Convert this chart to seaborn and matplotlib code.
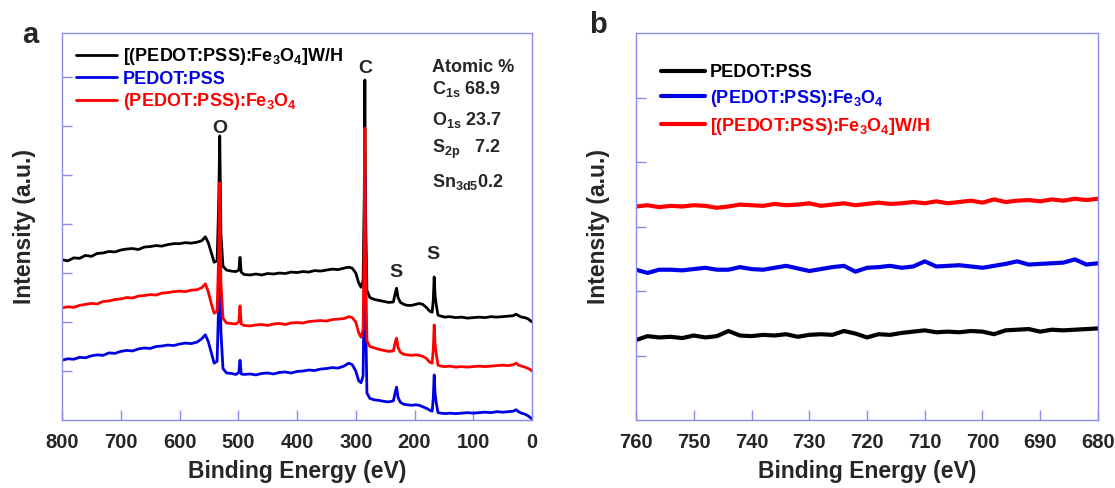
import matplotlib
matplotlib.use("Agg")
import matplotlib.pyplot as plt
import seaborn as sns
import pandas as pd

# ---------------- survey spectra (panel a) ----------------
energy_a = [800, 790, 780, 770, 760, 750, 740, 730, 720, 710,
            700, 690, 680, 670, 660, 650, 640, 630, 620, 610,
            600, 590, 580, 570, 562, 556, 551, 546, 541, 536,
            533.5, 531.5, 529.5, 526, 520, 512, 504, 499, 497, 495,
            490, 480, 470, 460, 450, 440, 430, 420, 410, 400,
            390, 380, 370, 360, 350, 340, 330, 320, 312, 306,
            300, 295, 291, 287.5, 285.5, 284.5, 283.5, 281, 276, 268,
            260, 252, 244, 236, 232.5, 230.5, 228, 224, 218, 212,
            205, 198, 192, 186, 180, 174, 170, 168, 166.5, 165,
            163, 160, 155, 148, 140, 130, 120, 110, 100, 90,
            80, 70, 60, 50, 40, 32, 27, 23, 18, 12,
            6, 3, 0]

wh_a = [3.27, 3.25, 3.31, 3.30, 3.36, 3.34, 3.40, 3.41, 3.44, 3.43,
        3.47, 3.49, 3.50, 3.48, 3.53, 3.54, 3.56, 3.55, 3.58, 3.60,
        3.60, 3.62, 3.61, 3.63, 3.66, 3.74, 3.62, 3.42, 3.22, 3.25,
        4.30, 5.80, 3.80, 3.14, 3.06, 3.04, 3.03, 3.06, 3.32, 3.02,
        2.97, 2.96, 2.98, 2.96, 2.99, 2.98, 3.00, 2.99, 3.02, 3.01,
        3.03, 3.02, 3.05, 3.04, 3.06, 3.08, 3.07, 3.10, 3.12, 3.10,
        3.00, 2.80, 2.71, 2.85, 4.60, 6.94, 4.40, 2.65, 2.50, 2.46,
        2.44, 2.42, 2.40, 2.41, 2.60, 2.69, 2.50, 2.40, 2.36, 2.34,
        2.34, 2.36, 2.38, 2.36, 2.30, 2.22, 2.20, 2.45, 2.92, 2.55,
        2.35, 2.14, 2.12, 2.10, 2.11, 2.09, 2.10, 2.08, 2.09, 2.10,
        2.09, 2.11, 2.10, 2.11, 2.12, 2.13, 2.16, 2.13, 2.10, 2.09,
        2.06, 2.03, 2.00]

pedot_a = [1.22, 1.25, 1.24, 1.28, 1.27, 1.31, 1.33, 1.32, 1.37, 1.36,
           1.40, 1.42, 1.41, 1.45, 1.47, 1.46, 1.50, 1.51, 1.53, 1.52,
           1.55, 1.57, 1.56, 1.59, 1.66, 1.74, 1.60, 1.38, 1.16, 1.20,
           2.30, 3.90, 1.80, 1.05, 0.96, 0.95, 0.93, 0.97, 1.22, 0.94,
           0.93, 0.94, 0.92, 0.95, 0.96, 0.94, 0.97, 0.98, 0.96, 0.99,
           1.00, 1.02, 1.01, 1.04, 1.05, 1.07, 1.06, 1.10, 1.16, 1.13,
           1.00, 0.80, 0.76, 0.90, 2.80, 5.00, 2.40, 0.55, 0.44, 0.41,
           0.40, 0.38, 0.37, 0.39, 0.58, 0.67, 0.46, 0.36, 0.32, 0.31,
           0.30, 0.31, 0.30, 0.27, 0.24, 0.20, 0.18, 0.45, 0.92, 0.55,
           0.35, 0.15, 0.14, 0.13, 0.14, 0.13, 0.14, 0.15, 0.14, 0.15,
           0.16, 0.15, 0.17, 0.16, 0.17, 0.18, 0.21, 0.17, 0.14, 0.12,
           0.08, 0.05, 0.02]

fe3o4_a = [2.29, 2.31, 2.30, 2.34, 2.36, 2.38, 2.37, 2.42, 2.43, 2.46,
           2.47, 2.50, 2.49, 2.53, 2.54, 2.56, 2.55, 2.59, 2.60, 2.62,
           2.63, 2.62, 2.65, 2.66, 2.70, 2.78, 2.62, 2.38, 2.18, 2.22,
           3.30, 4.84, 2.80, 2.08, 1.98, 1.97, 1.96, 2.00, 2.33, 1.96,
           1.93, 1.92, 1.94, 1.95, 1.93, 1.96, 1.97, 1.95, 1.98, 1.99,
           1.98, 2.01, 2.02, 2.03, 2.02, 2.05, 2.06, 2.07, 2.11, 2.09,
           2.00, 1.78, 1.69, 1.85, 3.70, 5.96, 3.40, 1.62, 1.50, 1.47,
           1.44, 1.42, 1.40, 1.41, 1.60, 1.67, 1.48, 1.38, 1.34, 1.33,
           1.32, 1.33, 1.32, 1.30, 1.26, 1.18, 1.16, 1.45, 1.94, 1.55,
           1.35, 1.12, 1.10, 1.09, 1.10, 1.08, 1.09, 1.08, 1.09, 1.10,
           1.09, 1.10, 1.11, 1.12, 1.11, 1.13, 1.16, 1.12, 1.10, 1.08,
           1.05, 1.03, 1.00]

# ---------------- Fe 2p region (panel b) ----------------
energy_b = list(range(760, 678, -2))

pedot_b = [1.24, 1.30, 1.28, 1.29, 1.27, 1.31, 1.28, 1.30, 1.38, 1.31,
           1.30, 1.32, 1.31, 1.33, 1.29, 1.32, 1.33, 1.32, 1.38, 1.34,
           1.28, 1.33, 1.32, 1.35, 1.37, 1.39, 1.36, 1.37, 1.36, 1.38,
           1.37, 1.33, 1.39, 1.40, 1.41, 1.37, 1.40, 1.39, 1.40, 1.41,
           1.42]

fe3o4_b = [2.33, 2.28, 2.33, 2.33, 2.32, 2.34, 2.36, 2.33, 2.33, 2.37,
           2.34, 2.33, 2.36, 2.39, 2.35, 2.31, 2.34, 2.37, 2.39, 2.30,
           2.36, 2.37, 2.39, 2.36, 2.38, 2.46, 2.38, 2.39, 2.40, 2.38,
           2.36, 2.39, 2.42, 2.46, 2.41, 2.42, 2.43, 2.44, 2.49, 2.41,
           2.43]

wh_b = [3.31, 3.33, 3.30, 3.32, 3.31, 3.33, 3.32, 3.29, 3.31, 3.34,
        3.33, 3.32, 3.35, 3.33, 3.34, 3.36, 3.32, 3.34, 3.36, 3.33,
        3.35, 3.37, 3.35, 3.36, 3.38, 3.36, 3.39, 3.36, 3.38, 3.40,
        3.37, 3.42, 3.38, 3.40, 3.41, 3.39, 3.42, 3.40, 3.43, 3.41,
        3.43]

label_wh = r"[(PEDOT:PSS):Fe$_3$O$_4$]W/H"
label_pedot = "PEDOT:PSS"
label_fe = r"(PEDOT:PSS):Fe$_3$O$_4$"

atomic_lines = ["Atomic %", r"C$_{1s}$ 68.9", r"O$_{1s}$ 23.7",
                r"S$_{2p}$   7.2", r"Sn$_{3d5}$0.2"]

# ---------------- style ----------------
sns.set_style("white")
plt.rcParams["font.family"] = ["Liberation Sans", "DejaVu Sans"]
plt.rcParams["font.weight"] = "bold"
plt.rcParams["mathtext.fontset"] = "custom"
plt.rcParams["mathtext.rm"] = "Liberation Sans:bold"
plt.rcParams["mathtext.bf"] = "Liberation Sans:bold"
plt.rcParams["mathtext.default"] = "bf"

SPINE = "#8c8cf0"

fig = plt.figure(figsize=(11.15, 4.88), dpi=100)
ax_a = fig.add_axes([62 / 1115, 68 / 488, 470 / 1115, 387 / 488])
ax_b = fig.add_axes([636 / 1115, 68 / 488, 462 / 1115, 387 / 488])


def draw(ax, x, y, color, label, lw):
    df = pd.DataFrame({"x": x, "y": y})
    sns.lineplot(data=df, x="x", y="y", color=color, label=label, lw=lw,
                 estimator=None, sort=False, ax=ax)


# panel a: black, blue, then red on top
draw(ax_a, energy_a, wh_a, "black", label_wh, 2.0)
draw(ax_a, energy_a, pedot_a, "#0000e6", label_pedot, 2.0)
draw(ax_a, energy_a, fe3o4_a, "#ff0000", label_fe, 2.0)

draw(ax_b, energy_b, pedot_b, "black", label_pedot, 3.0)
draw(ax_b, energy_b, fe3o4_b, "#0000e6", label_fe, 3.0)
draw(ax_b, energy_b, wh_b, "#ff0000", label_wh, 3.0)

ax_a.set_xlim(800, 0)
ax_a.set_ylim(0, 7.9)
ax_a.set_xticks(range(800, -1, -100))
ax_a.set_yticks(range(1, 8))

ax_b.set_xlim(760, 680)
ax_b.set_ylim(0, 6)
ax_b.set_xticks(range(760, 679, -10))
ax_b.set_yticks(range(1, 6))

for ax in (ax_a, ax_b):
    for s in ax.spines.values():
        s.set_color(SPINE)
        s.set_linewidth(1.0)
    ax.tick_params(axis="both", direction="in", color=SPINE, length=7,
                   width=1.0, labelsize=14.5, pad=9,
                   bottom=True, left=True, top=False, right=False)
    ax.set_yticklabels([])
    ax.set_xlabel("Binding Energy (eV)", fontsize=16.5, fontweight="bold",
                  labelpad=6)
    ax.set_ylabel("Intensity (a.u.)", fontsize=16.5, fontweight="bold",
                  labelpad=10)
    for lab in ax.get_xticklabels():
        lab.set_fontweight("bold")

leg_a = ax_a.legend(loc="upper left", bbox_to_anchor=(-0.005, 1.008),
                    frameon=False, handlelength=2.3, handletextpad=0.3,
                    labelspacing=0.2, labelcolor="linecolor",
                    prop={"size": 13, "weight": "bold"})
leg_b = ax_b.legend(loc="upper left", bbox_to_anchor=(0.02, 0.962),
                    frameon=False, handlelength=2.4, handletextpad=0.3,
                    labelspacing=0.38, labelcolor="linecolor",
                    prop={"size": 13, "weight": "bold"})

# peak labels
ax_a.text(531, 5.96, "O", ha="center", va="center", fontsize=14,
          fontweight="bold")
ax_a.text(284, 7.18, "C", ha="center", va="center", fontsize=14,
          fontweight="bold")
ax_a.text(231, 3.02, "S", ha="center", va="center", fontsize=14,
          fontweight="bold")
ax_a.text(168, 3.37, "S", ha="center", va="center", fontsize=14,
          fontweight="bold")

atomic_y = [7.2, 6.76, 6.12, 5.53, 4.86]
for txt, yy in zip(atomic_lines, atomic_y):
    ax_a.text(170, yy, txt, ha="left", va="center", fontsize=13,
              fontweight="bold")

fig.text(30 / 1115, 1 - 35 / 488, "a", fontsize=21, fontweight="bold",
         ha="center", va="center")
fig.text(598 / 1115, 1 - 25 / 488, "b", fontsize=21, fontweight="bold",
         ha="center", va="center")

fig.savefig("out.png", dpi=100)
